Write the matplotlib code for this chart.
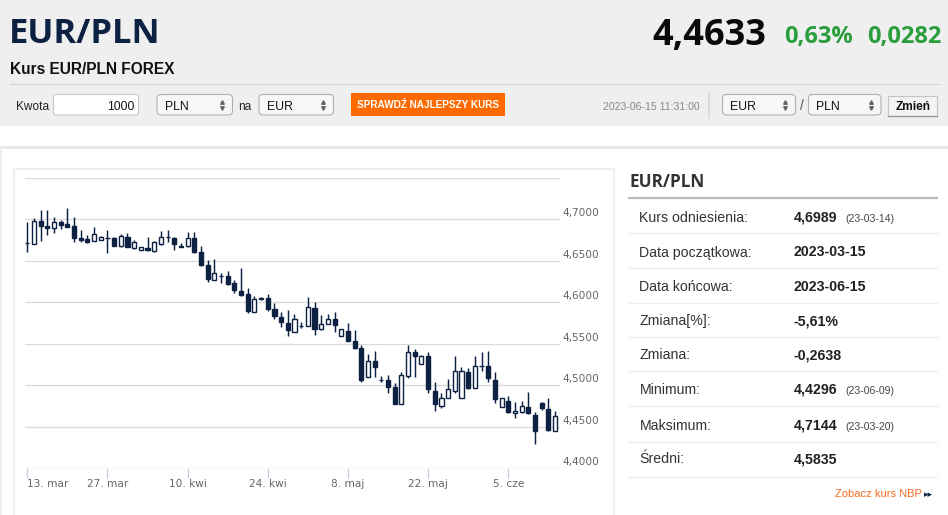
import matplotlib
matplotlib.use('Agg')
import numpy as np
import matplotlib.pyplot as plt
import matplotlib.transforms as mtransforms
from matplotlib.patches import Rectangle, FancyBboxPatch
from matplotlib import font_manager

# ---------------- data ----------------
opens = [4.6713, 4.6705, 4.6982, 4.6926, 4.6894, 4.6974, 4.6942, 4.6922, 4.6781, 4.6769,
         4.6737, 4.6757, 4.6773, 4.6773, 4.6681, 4.6793, 4.6653, 4.6628, 4.6653, 4.6620,
         4.6705, 4.6793, 4.6781, 4.6681, 4.6681, 4.6773, 4.6604, 4.6452, 4.6271, 4.6319,
         4.6319, 4.6230, 4.6138, 4.6098, 4.5881, 4.6050, 4.6050, 4.5921, 4.5829, 4.5748,
         4.5648, 4.5720, 4.5716, 4.5929, 4.5676, 4.5740, 4.5796, 4.5599, 4.5660, 4.5535,
         4.5447, 4.5097, 4.5298, 4.5067, 4.5065, 4.4976, 4.4771, 4.5113, 4.5402, 4.5258,
         4.5354, 4.4932, 4.4751, 4.4852, 4.4936, 4.4844, 4.5157, 4.4964, 4.5236, 4.5234,
         4.5065, 4.4743, 4.4812, 4.4663, 4.4683, 4.4743, 4.4643, 4.4792, 4.4711, 4.4454]
highs = [4.6974, 4.7014, 4.7115, 4.7115, 4.7026, 4.6994, 4.7144, 4.7026, 4.6874, 4.6813,
         4.6914, 4.6805, 4.6874, 4.6793, 4.6825, 4.6841, 4.6753, 4.6665, 4.6793, 4.6745,
         4.6861, 4.6874, 4.6793, 4.6713, 4.6853, 4.6853, 4.6681, 4.6512, 4.6520, 4.6351,
         4.6383, 4.6271, 4.6411, 4.6170, 4.6078, 4.6062, 4.6102, 4.5989, 4.5889, 4.5909,
         4.5857, 4.5760, 4.6070, 4.6009, 4.5849, 4.5861, 4.5889, 4.5676, 4.5748, 4.5668,
         4.5487, 4.5378, 4.5414, 4.5113, 4.5125, 4.5025, 4.5165, 4.5487, 4.5435, 4.5366,
         4.5406, 4.5045, 4.4904, 4.5073, 4.5354, 4.5218, 4.5206, 4.5354, 4.5398, 4.5414,
         4.5165, 4.4844, 4.4872, 4.4804, 4.4816, 4.4916, 4.4683, 4.4804, 4.4844, 4.4695]
lows = [4.6612, 4.6705, 4.6741, 4.6813, 4.6841, 4.6882, 4.6914, 4.6733, 4.6733, 4.6713,
        4.6737, 4.6753, 4.6592, 4.6681, 4.6673, 4.6665, 4.6640, 4.6628, 4.6624, 4.6612,
        4.6697, 4.6733, 4.6632, 4.6673, 4.6673, 4.6600, 4.6440, 4.6247, 4.6271, 4.6238,
        4.6210, 4.6110, 4.6078, 4.5877, 4.5881, 4.6029, 4.5901, 4.5796, 4.5708, 4.5599,
        4.5648, 4.5688, 4.5716, 4.5607, 4.5668, 4.5740, 4.5648, 4.5599, 4.5539, 4.5435,
        4.5045, 4.5097, 4.5105, 4.5045, 4.4912, 4.4776, 4.4771, 4.5085, 4.5105, 4.5258,
        4.4904, 4.4691, 4.4723, 4.4844, 4.4904, 4.4844, 4.4956, 4.4964, 4.5173, 4.5037,
        4.4784, 4.4743, 4.4671, 4.4603, 4.4663, 4.4655, 4.4296, 4.4703, 4.4454, 4.4454]
closes = [4.6717, 4.6986, 4.6922, 4.6894, 4.6966, 4.6934, 4.6914, 4.6781, 4.6749, 4.6729,
          4.6825, 4.6785, 4.6777, 4.6685, 4.6805, 4.6673, 4.6733, 4.6665, 4.6632, 4.6725,
          4.6793, 4.6785, 4.6705, 4.6673, 4.6773, 4.6604, 4.6452, 4.6279, 4.6359, 4.6317,
          4.6222, 4.6150, 4.6090, 4.5901, 4.6042, 4.6037, 4.5917, 4.5837, 4.5768, 4.5668,
          4.5796, 4.5716, 4.5941, 4.5680, 4.5740, 4.5800, 4.5728, 4.5676, 4.5539, 4.5447,
          4.5065, 4.5298, 4.5218, 4.5063, 4.4984, 4.4776, 4.5121, 4.5398, 4.5354, 4.5354,
          4.4952, 4.4771, 4.4852, 4.4956, 4.5173, 4.5169, 4.4964, 4.5234, 4.5232, 4.5085,
          4.4836, 4.4844, 4.4683, 4.4695, 4.4755, 4.4663, 4.4450, 4.4723, 4.4462, 4.4635]

x_tick_pos = [0, 12, 24, 36, 48, 60, 72]
x_tick_labels = ['13. mar', '27. mar', '10. kwi', '24. kwi', '8. maj', '22. maj', '5. cze']
y_grid = [4.40, 4.45, 4.50, 4.55, 4.60, 4.65, 4.70, 4.75]
y_labels = [4.40, 4.45, 4.50, 4.55, 4.60, 4.65, 4.70]

stat_labels = ['Kurs odniesienia:', 'Data początkowa:', 'Data końcowa:', 'Zmiana[%]:',
               'Zmiana:', 'Minimum:', 'Maksimum:', 'Średni:']
stat_values = ['4,6989', '2023-03-15', '2023-06-15', '-5,61%', '-0,2638', '4,4296', '4,7144', '4,5835']
stat_notes = ['(23-03-14)', '', '', '', '', '(23-06-09)', '(23-03-20)', '']

price = '4,4633'
change_pct = '0,63%'
change_abs = '0,0282'
timestamp = '2023-06-15 11:31:00'

# ---------------- style ----------------
NAVY = '#0d2142'
W, H = 948, 515
fig = plt.figure(figsize=(W / 100, H / 100), dpi=100)
bg = fig.add_axes([0, 0, 1, 1])
bg.set_xlim(0, W)
bg.set_ylim(H, 0)
bg.axis('off')

installed = {f.name for f in font_manager.fontManager.ttflist}
ARIAL = 'Liberation Sans'
NARROW = 'Liberation Sans Narrow' if 'Liberation Sans Narrow' in installed else 'Liberation Sans'
OPEN = 'Open Sans'

# header band
bg.add_patch(Rectangle((0, 0), W, 125.5, facecolor='#efefef', edgecolor='none', zorder=0))
bg.plot([10, 940], [84.3, 84.3], color='#d6d6d6', lw=0.8, zorder=1)
bg.plot([0, W], [146.5, 146.5], color='#e8e8e8', lw=2.2, zorder=1)
bg.plot([1.5, 1.5], [147, H], color='#eeeeee', lw=1.5, zorder=1)

bg.text(9, 43.3, 'EUR/PLN', fontsize=24.8, fontweight='bold', family=OPEN, color=NAVY, va='baseline')
bg.text(10, 73.5, 'Kurs EUR/PLN FOREX', fontsize=11.2, fontweight='bold', family=ARIAL, color='#111111', va='baseline')
bg.text(766, 45, price, fontsize=26, fontweight='bold', family=OPEN, color='#0a0a0a', va='baseline', ha='right')
bg.text(853, 43.5, change_pct, fontsize=17, fontweight='bold', family=OPEN, color='#2a9d3c', va='baseline', ha='right')
bg.text(942, 43.5, change_abs, fontsize=17, fontweight='bold', family=OPEN, color='#2a9d3c', va='baseline', ha='right')

# form row
bg.text(16, 110, 'Kwota', fontsize=8.6, family=ARIAL, color='#222222', va='baseline')
bg.add_patch(FancyBboxPatch((53.5, 94.5), 85, 20.5, boxstyle='round,pad=0,rounding_size=2',
                            facecolor='white', edgecolor='#c8c8c8', lw=0.8, zorder=2))
bg.text(135, 110, '1000', fontsize=8.8, family=ARIAL, color='#111111', va='baseline', ha='right', zorder=3)


def select_box(x0, x1, label):
    bg.add_patch(FancyBboxPatch((x0, 94.5), x1 - x0, 20.5, boxstyle='round,pad=0,rounding_size=4',
                                facecolor='#f7f7f7', edgecolor='#b0b0b0', lw=0.8, zorder=2))
    bg.text(x0 + 8, 109.5, label, fontsize=8.8, family=ARIAL, color='#111111', va='baseline', zorder=3)
    bg.plot([x1 - 10], [102], marker='^', ms=2.6, color='#666666', zorder=3)
    bg.plot([x1 - 10], [107.5], marker='v', ms=2.6, color='#666666', zorder=3)


select_box(157, 232.5, 'PLN')
bg.text(238, 110, 'na', fontsize=8.6, family=ARIAL, color='#222222', va='baseline')
select_box(259, 333.5, 'EUR')
bg.add_patch(Rectangle((351.5, 93), 153.5, 23, facecolor='#ff6a00', edgecolor='none', zorder=2))
bg.text(428.3, 108.5, 'SPRAWDŹ NAJLEPSZY KURS', fontsize=8.2 if NARROW != ARIAL else 7.2,
        fontweight='bold', family=NARROW, color='white', va='baseline', ha='center', zorder=3)
bg.text(700, 110.5, timestamp, fontsize=7.6, family=ARIAL, color='#888888', va='baseline', ha='right')
bg.plot([709.5, 709.5], [93, 118], color='#d8d8d8', lw=1.2)
select_box(722.5, 795.5, 'EUR')
bg.text(801.5, 110, '/', fontsize=10, family=ARIAL, color='#555555', va='baseline', ha='center')
select_box(808.5, 881, 'PLN')
bg.add_patch(Rectangle((888, 95.5), 49.5, 20.5, facecolor='#f3f3f3', edgecolor='#c4c4c4', lw=0.8, zorder=2))
bg.plot([888.5, 937], [116, 116], color='#9a9a9a', lw=1.0, zorder=3)
bg.text(912.7, 110, 'Zmień', fontsize=8.6, fontweight='bold', family=ARIAL, color='#111111',
        va='baseline', ha='center', zorder=3)

# chart frame
bg.add_patch(Rectangle((14, 168.5), 600, 400, facecolor='white', edgecolor='#ececec', lw=1.2, zorder=1))

# right table
bg.text(630, 187, 'EUR/PLN', fontsize=12.3, fontweight='bold', family=OPEN, color='#333333', va='baseline')
bg.plot([629.5, 937], [197.7, 197.7], color='#bdbdbd', lw=1.6)
row_centres = [216.7, 251.5, 285.7, 320, 354, 389, 425, 458.3]
row_lines = [233.3, 268.3, 302.7, 336.7, 371, 405.7, 442.3, 476.7]
for yl in row_lines:
    bg.plot([629.5, 937], [yl, yl], color='#ededed', lw=1.0)
for yc, lab, val, note in zip(row_centres, stat_labels, stat_values, stat_notes):
    bg.text(639.5, yc + 5, lab, fontsize=10.2, family=ARIAL, color='#333333', va='baseline')
    bg.text(794, yc + 5, val, fontsize=10.2, fontweight='bold', family=ARIAL, color='#222222', va='baseline')
    if note:
        bg.text(845, yc + 5, note, fontsize=7.6, family=ARIAL, color='#444444', va='baseline')
bg.text(922, 497, 'Zobacz kurs NBP', fontsize=8.0, family=ARIAL, color='#f26d21', va='baseline', ha='right')
bg.text(924, 497, '▸▸', fontsize=6.5, family='DejaVu Sans', color=NAVY, va='baseline', ha='left')

# ---------------- candlestick chart ----------------
L_PX, R_PX, T_PX, B_PX = 25, 560, 178, 468.3
X0_PX, STEP_PX = 27.3, 6.68
ax = fig.add_axes([L_PX / W, 1 - B_PX / H, (R_PX - L_PX) / W, (B_PX - T_PX) / H])
ax.set_facecolor('none')
ax.set_xlim((L_PX - X0_PX) / STEP_PX, (R_PX - X0_PX) / STEP_PX)
ax.set_ylim(4.40, 4.75)
for s in ax.spines.values():
    s.set_visible(False)

for g in y_grid[1:]:
    ax.axhline(g, color='#d9d9d9', lw=0.9, zorder=1)
ax.axhline(4.40, color='#c2d3e6', lw=1.0, zorder=1)

xs = np.arange(len(opens))
o = np.array(opens); c = np.array(closes); hi = np.array(highs); lo = np.array(lows)
up = c >= o
ax.vlines(xs, lo, hi, color=NAVY, lw=1.05, zorder=2)
bottoms = np.minimum(o, c)
heights = np.maximum(np.abs(c - o), 0.0005)
ax.bar(xs[up], heights[up], bottom=bottoms[up], width=0.62, facecolor='white',
       edgecolor=NAVY, lw=1.0, zorder=3)
ax.bar(xs[~up], heights[~up], bottom=bottoms[~up], width=0.62, facecolor=NAVY,
       edgecolor=NAVY, lw=1.0, zorder=3)

ax.set_xticks(x_tick_pos)
ax.set_xticklabels(x_tick_labels)
ax.tick_params(axis='x', length=7.5, width=0.9, color='#c2d3e6', pad=0,
               labelsize=7.6, labelcolor='#666666')
for t in ax.get_xticklabels():
    t.set_family('DejaVu Sans')
ax.get_xticklabels()[0].set_ha('left')
ax.get_xticklabels()[0].set_x(-0.3)
ax.set_yticks([])

trans = mtransforms.blended_transform_factory(ax.transAxes, ax.transData) + \
    mtransforms.ScaledTranslation(2 / 100, 6 / 100, fig.dpi_scale_trans)
for v in y_labels:
    ax.text(1.0, v, f'{v:.4f}'.replace('.', ','), transform=trans, fontsize=7.6,
            family='DejaVu Sans', color='#666666', va='center', ha='left', clip_on=False)

fig.savefig('out.png', dpi=100)
